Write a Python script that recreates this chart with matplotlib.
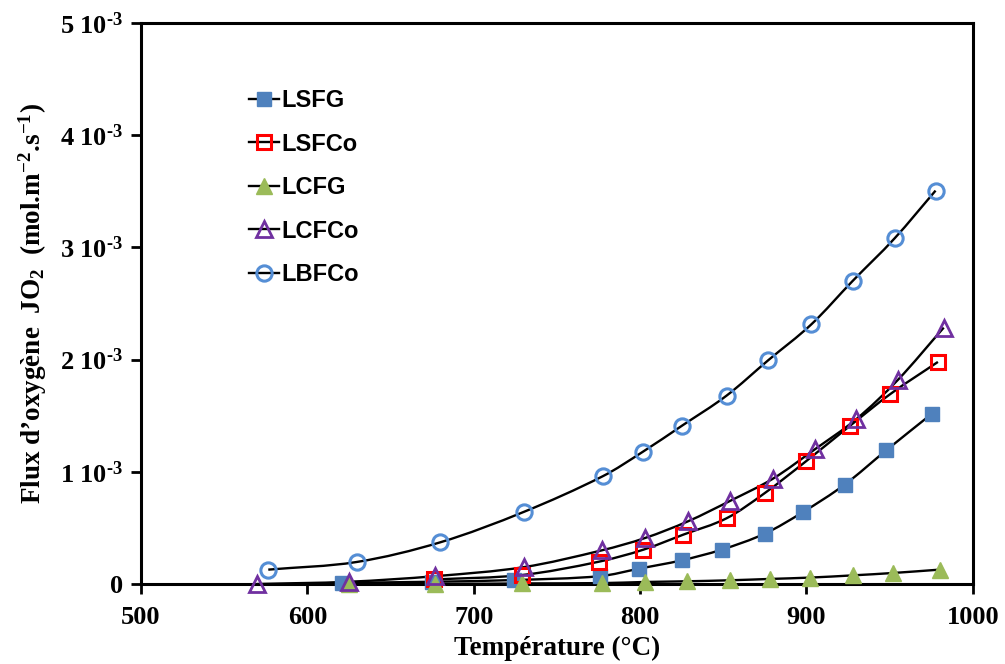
import numpy as np
import matplotlib
matplotlib.use('Agg')
import matplotlib.pyplot as plt
from matplotlib.path import Path
from matplotlib.patches import PathPatch
from matplotlib.lines import Line2D

# Données (flux en 10^-3 mol.m-2.s-1)
T_lsfg = [621, 675, 724, 776, 799.5, 825, 849, 875, 898, 923, 948, 975.5]
J_lsfg = [0.01, 0.02, 0.035, 0.07, 0.137, 0.211, 0.306, 0.449, 0.642, 0.886, 1.192, 1.519]

T_lsfco = [676, 729, 775, 802, 826, 852, 875, 900, 926, 950.5, 979]
J_lsfco = [0.04, 0.08, 0.198, 0.306, 0.44, 0.586, 0.811, 1.097, 1.408, 1.694, 1.979]

T_lcfg = [625, 677, 729, 777, 803, 828, 854, 878, 902, 928, 952, 980]
J_lcfg = [0.0, 0.0, 0.005, 0.008, 0.018, 0.024, 0.033, 0.045, 0.057, 0.077, 0.098, 0.128]

T_lcfco = [569.5, 625, 677, 730, 777, 803, 829, 854, 880, 905, 930, 955, 982.5]
J_lcfco = [0.0, 0.02, 0.07, 0.15, 0.30, 0.41, 0.56, 0.74, 0.94, 1.20, 1.47, 1.82, 2.285]

T_lbfco = [576.5, 629.6, 680, 730, 777.5, 801.5, 825.3, 852, 877, 903, 927.7, 953, 977.6]
J_lbfco = [0.128, 0.196, 0.372, 0.642, 0.96, 1.177, 1.412, 1.679, 1.994, 2.315, 2.70, 3.081, 3.506]

yticks = [0, 1, 2, 3, 4, 5]
ytick_labels = ['0'] + ['%d 10$^{\\text{-}3}$' % k for k in yticks[1:]]

plt.rcParams['font.family'] = 'Liberation Serif'
plt.rcParams['font.weight'] = 'bold'
plt.rcParams['mathtext.fontset'] = 'custom'
plt.rcParams['mathtext.rm'] = 'Liberation Serif:bold'
plt.rcParams['mathtext.it'] = 'Liberation Serif:bold'
plt.rcParams['mathtext.bf'] = 'Liberation Serif:bold'


def smooth_path(x, y):
    # courbe lissée (Hermite cubique paramétrée en x -> Bezier)
    x = np.asarray(x, float)
    y = np.asarray(y, float)
    n = len(x)
    m = np.zeros(n)
    m[0] = (y[1] - y[0]) / (x[1] - x[0])
    m[-1] = (y[-1] - y[-2]) / (x[-1] - x[-2])
    for i in range(1, n - 1):
        m[i] = (y[i + 1] - y[i - 1]) / (x[i + 1] - x[i - 1])
    verts = [(x[0], y[0])]
    codes = [Path.MOVETO]
    for i in range(n - 1):
        dx = x[i + 1] - x[i]
        verts += [(x[i] + dx / 3, y[i] + m[i] * dx / 3),
                  (x[i + 1] - dx / 3, y[i + 1] - m[i + 1] * dx / 3),
                  (x[i + 1], y[i + 1])]
        codes += [Path.CURVE4] * 3
    return Path(verts, codes)


fig = plt.figure(figsize=(10.05, 6.64), dpi=100)
ax = fig.add_axes([0.1403, 0.1205, 0.8277, 0.8449])

series = [
    ('LSFG', T_lsfg, J_lsfg, dict(marker='s', mfc='#4F81BD', mec='#4F81BD', ms=10, mew=1)),
    ('LSFCo', T_lsfco, J_lsfco, dict(marker='s', mfc='none', mec='#FF0000', ms=10, mew=2.2)),
    ('LCFG', T_lcfg, J_lcfg, dict(marker='^', mfc='#9BBB59', mec='#9BBB59', ms=11, mew=1)),
    ('LCFCo', T_lcfco, J_lcfco, dict(marker='^', mfc='none', mec='#7030A0', ms=11, mew=2.0)),
    ('LBFCo', T_lbfco, J_lbfco, dict(marker='o', mfc='none', mec='#558ED5', ms=11, mew=2.2)),
]

handles = []
for name, T, J, st in series:
    ax.add_patch(PathPatch(smooth_path(T, J), fc='none', ec='black', lw=1.7, zorder=2, clip_on=False))
for name, T, J, st in series:
    ax.plot(T, J, ls='none', zorder=3, clip_on=False, **st)
    handles.append(Line2D([], [], color='black', lw=1.7, **st))

ax.set_xlim(500, 1000)
ax.set_ylim(0, 5)
ax.set_xticks([500, 600, 700, 800, 900, 1000])
ax.set_yticks(yticks)
ax.set_yticklabels(ytick_labels)
ax.tick_params(direction='out', length=7, width=2, labelsize=19, pad=9)
ax.tick_params(axis='y', pad=6)
for sp in ax.spines.values():
    sp.set_linewidth(2.2)

ax.set_xlabel('Température (°C)', fontsize=19.5, fontweight='bold', labelpad=5)
ax.set_ylabel('Flux d’oxygène  JO$_2$  (mol.m$^{-2}$.s$^{-1}$)', fontsize=19.5, fontweight='bold', labelpad=8)

leg = ax.legend(handles, [s[0] for s in series], loc='upper left', bbox_to_anchor=(0.104, 0.92),
                frameon=False, handlelength=1.3, handletextpad=0.1, labelspacing=0.87,
                prop={'family': 'Liberation Sans', 'weight': 'bold', 'size': 17})

fig.savefig('out.png', dpi=100)
